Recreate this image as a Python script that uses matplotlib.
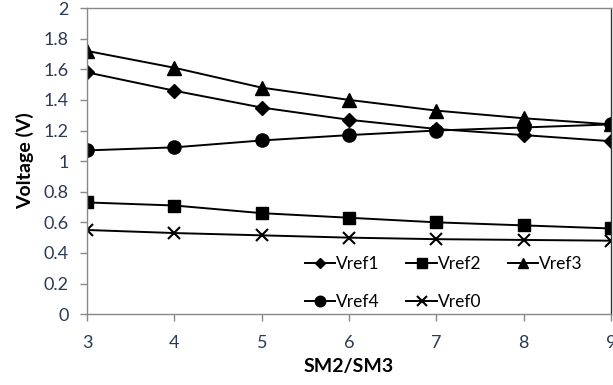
import matplotlib
matplotlib.use("Agg")
import matplotlib.pyplot as plt

x = [3, 4, 5, 6, 7, 8, 9]
vref1 = [1.58, 1.46, 1.35, 1.27, 1.21, 1.17, 1.13]
vref2 = [0.73, 0.71, 0.66, 0.63, 0.60, 0.58, 0.56]
vref3 = [1.72, 1.61, 1.48, 1.40, 1.33, 1.28, 1.24]
vref4 = [1.07, 1.09, 1.135, 1.17, 1.20, 1.22, 1.24]
vref0 = [0.55, 0.53, 0.515, 0.50, 0.49, 0.485, 0.48]
yticks = [0, 0.2, 0.4, 0.6, 0.8, 1, 1.2, 1.4, 1.6, 1.8, 2]
ytick_labels = ["0", "0.2", "0.4", "0.6", "0.8", "1", "1.2", "1.4", "1.6", "1.8", "2"]

plt.rcParams['font.family'] = ['Lato', 'DejaVu Sans']

fig = plt.figure(figsize=(6.13, 3.85), dpi=100)
ax = fig.add_axes([0.142, 0.184, 0.855, 0.795])

lw = 1.4
h1, = ax.plot(x, vref1, color='black', lw=lw, marker='D', ms=7, label='Vref1')
h2, = ax.plot(x, vref2, color='black', lw=lw, marker='s', ms=8.5, label='Vref2')
h3, = ax.plot(x, vref3, color='black', lw=lw, marker='^', ms=9.5, label='Vref3')
h4, = ax.plot(x, vref4, color='black', lw=lw, marker='o', ms=9.5, label='Vref4')
h0, = ax.plot(x, vref0, color='black', lw=lw, marker='x', ms=9, mew=1.5, label='Vref0')

ax.set_xlim(3, 9)
ax.set_ylim(0, 2)
ax.set_xticks(x)
ax.set_yticks(yticks)
ax.set_yticklabels(ytick_labels)
for s in ax.spines.values():
    s.set_color('#888888')
    s.set_linewidth(1.0)
ax.spines['right'].set_color('#333333')
ax.tick_params(axis='both', colors='#888888', labelcolor='#2b3a55', labelsize=13, length=5, width=1.0, direction='out')
ax.tick_params(axis='x', pad=10)
ax.tick_params(axis='y', pad=8)

ax.set_xlabel('SM2/SM3', fontsize=14, fontweight='bold', labelpad=5)
ax.set_ylabel('Voltage (V)', fontsize=14, fontweight='bold', labelpad=7)

handles = [h1, h4, h2, h0, h3]
leg = ax.legend(handles=handles, labels=[h.get_label() for h in handles], ncol=3,
                loc='upper left', bbox_to_anchor=(0.415, 0.19), frameon=False,
                fontsize=12.5, handlelength=1.75, handletextpad=0.05, columnspacing=1.55,
                labelspacing=1.25, markerscale=0.8, borderpad=0, borderaxespad=0)

fig.savefig('out.png', dpi=100)
